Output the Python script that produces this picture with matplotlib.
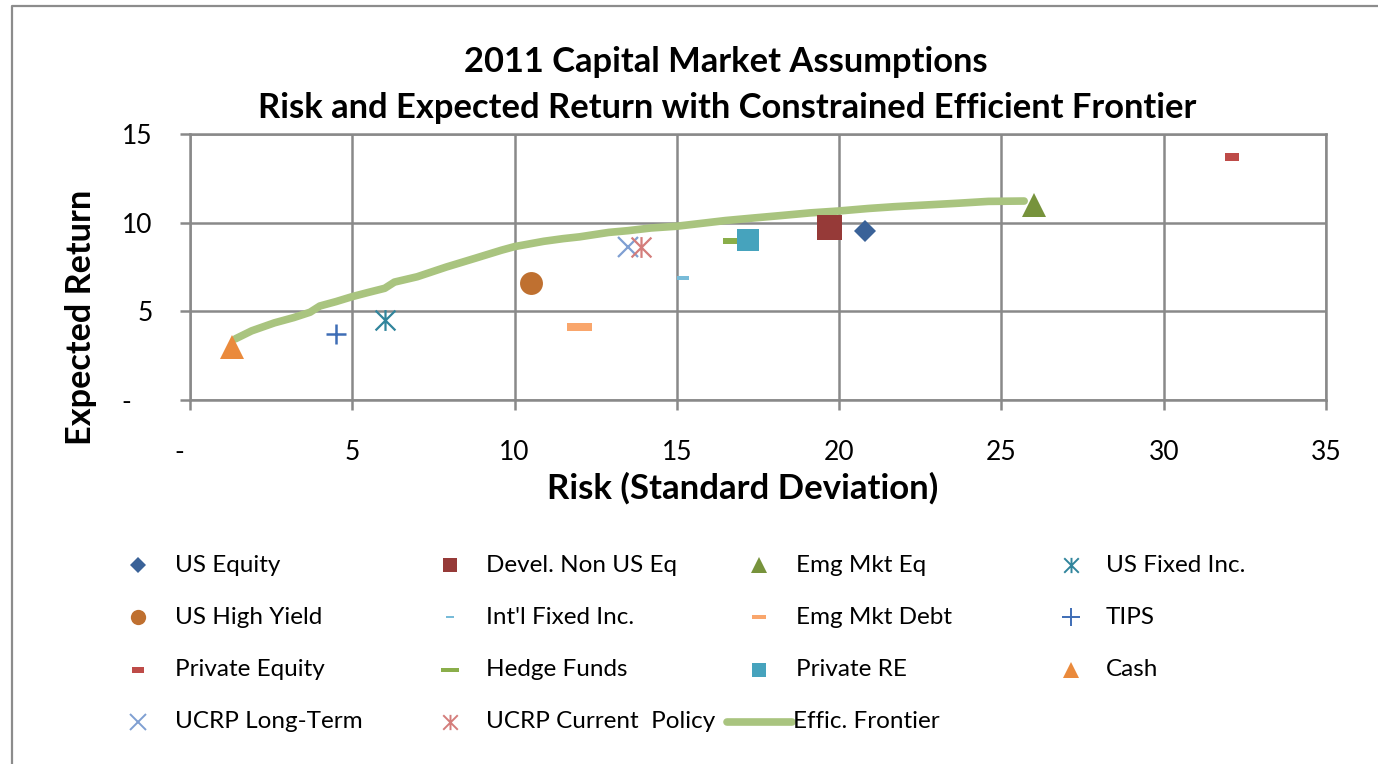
import matplotlib
matplotlib.use("Agg")
import matplotlib.pyplot as plt
from matplotlib.lines import Line2D
from matplotlib.path import Path
import numpy as np

# ---------------- data ----------------
asset_names = ["US Equity", "Devel. Non US Eq", "Emg Mkt Eq", "US Fixed Inc.",
               "US High Yield", "Int'l Fixed Inc.", "Emg Mkt Debt", "TIPS",
               "Private Equity", "Hedge Funds", "Private RE", "Cash",
               "UCRP Long-Term", "UCRP Current  Policy"]
asset_risk = [20.8, 19.7, 26.0, 6.0, 10.5, 15.2, 12.0, 4.5, 32.1, 16.8, 17.2, 1.3, 13.5, 13.9]
asset_return = [9.55, 9.75, 11.0, 4.5, 6.6, 6.9, 4.1, 3.7, 13.7, 8.95, 9.0, 3.0, 8.6, 8.6]

frontier_risk = [1.4, 1.9, 2.6, 3.2, 3.7, 4.0, 4.5, 5.0, 5.5, 6.0, 6.3, 7.0, 7.9, 8.8,
                 9.6, 10.0, 10.9, 11.5, 12.0, 12.9, 13.5, 14.2, 15.0, 15.8, 16.5, 17.4,
                 18.2, 19.1, 20.0, 20.9, 21.7, 22.7, 23.7, 24.6, 25.7]
frontier_return = [3.45, 3.9, 4.35, 4.65, 4.95, 5.3, 5.55, 5.83, 6.07, 6.3, 6.65, 6.95,
                   7.5, 8.0, 8.45, 8.65, 8.95, 9.1, 9.2, 9.45, 9.55, 9.7, 9.8, 9.97,
                   10.12, 10.27, 10.4, 10.55, 10.66, 10.8, 10.9, 11.0, 11.1, 11.2, 11.22]
frontier_name = "Effic. Frontier"

x_ticks = [0, 5, 10, 15, 20, 25, 30, 35]
x_tick_labels = ["-   ", "5", "10", "15", "20", "25", "30", "35"]
y_ticks = [0, 5, 10, 15]
y_tick_labels = ["-   ", "5", "10", "15"]

title_lines = ["2011 Capital Market Assumptions",
               "Risk and Expected Return with Constrained Efficient Frontier"]
xlabel_text = "Risk (Standard Deviation)"
ylabel_text = "Expected Return"

# ---------------- styles ----------------
def rect(w, h):
    return [(-w / 2, -h / 2), (w / 2, -h / 2), (w / 2, h / 2), (-w / 2, h / 2), (-w / 2, -h / 2)]

star_path = Path([(-1, -1), (1, 1), (-1, 1), (1, -1), (0, -1.05), (0, 1.05)],
                 [Path.MOVETO, Path.LINETO, Path.MOVETO, Path.LINETO, Path.MOVETO, Path.LINETO])

# (marker, size_pt, color, filled, edge width, legend size)
styles = [
    ("D", 11.5, "#3A6298", True, 0, 8),
    ("s", 18.0, "#963A38", True, 0, 10),
    ("^", 17.0, "#77933C", True, 0, 11),
    (star_path, 15.0, "#31859C", False, 1.6, 11),
    ("o", 16.5, "#BF7030", True, 0, 11),
    (rect(1, 0.32), 9.0, "#78BBD8", True, 0, 6),
    (rect(1, 0.28), 18.0, "#F9A66C", True, 0, 10),
    ("+", 14.5, "#3E6DB5", False, 1.8, 13),
    (rect(1, 0.5), 10.5, "#BE4B48", True, 0, 9),
    (rect(1, 0.27), 17.0, "#8AAE4A", True, 0, 13),
    ("s", 16.5, "#46A3BD", True, 0, 10),
    ("^", 17.0, "#EA8A3C", True, 0, 11),
    ("x", 15.0, "#7F9FD2", False, 1.6, 11),
    (star_path, 15.0, "#D47D7B", False, 1.6, 11),
]
frontier_color = "#A9C47F"

W, H = 1378, 764
plt.rcParams['font.family'] = ['Lato', 'DejaVu Sans']
fig = plt.figure(figsize=(W / 100, H / 100), dpi=100)

def fx(px):
    return px / W

def fy(py):
    return 1 - py / H

ax = fig.add_axes([fx(190), fy(400), (1326 - 190) / W, (400 - 134) / H])
grid_c = "#898989"
ax.set_xlim(0, 35)
ax.set_ylim(0, 15)
ax.set_xticks(x_ticks)
ax.set_xticklabels(x_tick_labels)
ax.set_yticks(y_ticks)
ax.set_yticklabels(y_tick_labels)
ax.grid(True, color=grid_c, lw=1.8)
ax.set_axisbelow(True)
for s in ax.spines.values():
    s.set_color(grid_c)
    s.set_linewidth(1.8)
ax.tick_params(axis='both', direction='out', length=7, width=1.8, color=grid_c,
               labelsize=19, labelcolor="black")
ax.tick_params(axis='x', pad=22)
ax.tick_params(axis='y', pad=20)

ax.plot(frontier_risk, frontier_return, color=frontier_color, lw=5.5,
        solid_capstyle='round', solid_joinstyle='round', zorder=2, clip_on=False)

for i, (name, xv, yv) in enumerate(zip(asset_names, asset_risk, asset_return)):
    m, ms, c, filled, mew, _ = styles[i]
    if filled:
        ax.plot([xv], [yv], linestyle='none', marker=m, markersize=ms, color=c,
                markeredgewidth=0, zorder=3, clip_on=False)
    else:
        ax.plot([xv], [yv], linestyle='none', marker=m, markersize=ms,
                markerfacecolor='none', markeredgecolor=c, markeredgewidth=mew,
                zorder=3, clip_on=False)

# titles
fig.text(fx(726), fy(62), title_lines[0], ha='center', va='center', fontsize=24.8,
         fontweight='bold')
fig.text(fx(727), fy(108), title_lines[1], ha='center', va='center', fontsize=24.8,
         fontweight='bold')
fig.text(fx(743), fy(488), xlabel_text, ha='center', va='center', fontsize=25,
         fontweight='bold')
fig.text(fx(81), fy(317), ylabel_text, ha='center', va='center', fontsize=24.7,
         fontweight='bold', rotation=90)

# legend (row-wise, 4 columns)
col_marker_x = [138, 450, 759, 1071]
col_text_x = [175, 486, 796, 1106]
row_y = [565, 617, 670, 722]
entries = list(range(len(asset_names))) + ["frontier"]
for k, e in enumerate(entries):
    r, cidx = divmod(k, 4)
    yy = fy(row_y[r])
    if e == "frontier":
        fig.add_artist(Line2D([fx(727), fx(792)], [yy, yy], color=frontier_color, lw=5.5,
                              solid_capstyle='round', transform=fig.transFigure))
        label = frontier_name
        tx = 793
    else:
        m, ms, c, filled, mew, lms = styles[e]
        if filled:
            art = Line2D([fx(col_marker_x[cidx])], [yy], marker=m, markersize=lms, color=c,
                         markeredgewidth=0, linestyle='none', transform=fig.transFigure)
        else:
            art = Line2D([fx(col_marker_x[cidx])], [yy], marker=m, markersize=lms,
                         markerfacecolor='none', markeredgecolor=c, markeredgewidth=1.4,
                         linestyle='none', transform=fig.transFigure)
        fig.add_artist(art)
        label = asset_names[e]
        tx = col_text_x[cidx]
    fig.text(fx(tx), yy, label, ha='left', va='center', fontsize=17.5)

# chart area border (left and top visible)
fig.add_artist(Line2D([fx(12), fx(12), fx(W + 5)], [fy(H + 5), fy(6), fy(6)],
                      color="#8C8C8C", lw=1.6, transform=fig.transFigure))

fig.savefig("out.png", dpi=100)
